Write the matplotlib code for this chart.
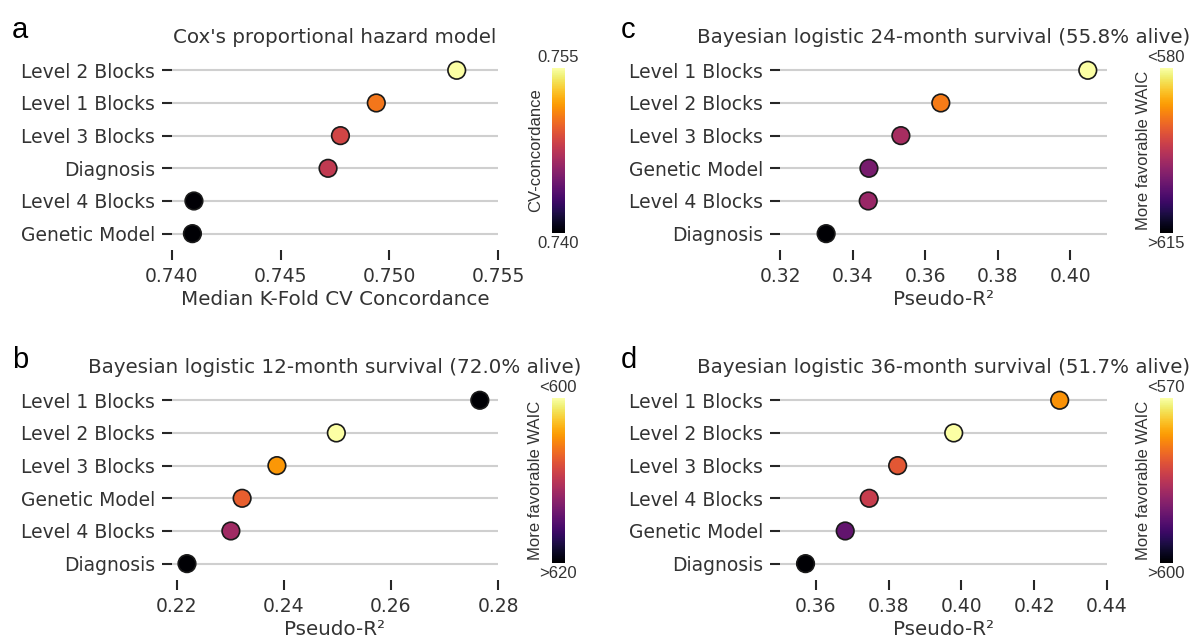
import numpy as np
import matplotlib
matplotlib.use('Agg')
import matplotlib.pyplot as plt
import matplotlib.colors as mcolors

plt.rcParams['font.family'] = 'DejaVu Sans'

# panel a: Cox model, CV concordance
labels_a = ['Level 2 Blocks', 'Level 1 Blocks', 'Level 3 Blocks', 'Diagnosis',
            'Level 4 Blocks', 'Genetic Model']
conc_a = [0.7531, 0.7494, 0.74775, 0.74718, 0.74101, 0.74094]

# panel b: 12-month survival
labels_b = ['Level 1 Blocks', 'Level 2 Blocks', 'Level 3 Blocks', 'Genetic Model',
            'Level 4 Blocks', 'Diagnosis']
r2_b = [0.2766, 0.2498, 0.2387, 0.2322, 0.2301, 0.2219]
waic_b = [624, 598, 604.6, 607.2, 611.4, 623]

# panel c: 24-month survival
labels_c = ['Level 1 Blocks', 'Level 2 Blocks', 'Level 3 Blocks', 'Genetic Model',
            'Level 4 Blocks', 'Diagnosis']
r2_c = [0.4048, 0.3643, 0.3533, 0.3445, 0.3443, 0.3327]
waic_c = [578, 590.2, 599.3, 603.5, 600.6, 618]

# panel d: 36-month survival
labels_d = ['Level 1 Blocks', 'Level 2 Blocks', 'Level 3 Blocks', 'Level 4 Blocks',
            'Genetic Model', 'Diagnosis']
r2_d = [0.4270, 0.3979, 0.3825, 0.3747, 0.3681, 0.3572]
waic_d = [577.2, 568, 581.4, 584.1, 591.6, 602]

txt_col = '#333333'
cb_font = 'Liberation Sans'

fig = plt.figure(figsize=(11.96, 6.4), dpi=100)

def xticks_fmt(ticks):
    if ticks[0] > 0.7:
        return ['%.3f' % t for t in ticks]
    return ['%.2f' % t for t in ticks]

def dot_panel(rect, labels, vals, colors, xlim, xticks, xlabel, title):
    ax = fig.add_axes(rect)
    y = np.arange(len(labels))
    for yy in y:
        ax.axhline(yy, color='#cfcfcf', lw=1.5, zorder=1)
    ax.scatter(vals, y, s=160, c=colors, edgecolors='#1a1a1a', linewidths=1.2, zorder=3)
    ax.set_ylim(len(labels) - 0.5, -0.5)
    ax.set_xlim(*xlim)
    ax.set_yticks(y)
    ax.set_yticklabels(labels)
    ax.set_xticks(xticks)
    ax.set_xticklabels(xticks_fmt(xticks))
    for s in ax.spines.values():
        s.set_visible(False)
    ax.tick_params(axis='both', length=7, width=1.5, color='#262626',
                   labelsize=13.5, labelcolor=txt_col, pad=5)
    ax.set_xlabel(xlabel, fontsize=14.3, color=txt_col, labelpad=3)
    ax.set_title(title, fontsize=14.3, color=txt_col, pad=8)
    return ax

def add_cbar(rect, cmap, norm, top, bottom, label, invert=False):
    cax = fig.add_axes(rect)
    cb = matplotlib.colorbar.ColorbarBase(cax, cmap=cmap, norm=norm)
    cb.outline.set_visible(False)
    cax.set_yticks([])
    if invert:
        cax.invert_yaxis()
    cax.text(0.5, 1.02, top, transform=cax.transAxes, ha='center', va='bottom',
             fontsize=12, family=cb_font, color=txt_col)
    cax.text(0.5, -0.02, bottom, transform=cax.transAxes, ha='center', va='top',
             fontsize=12, family=cb_font, color=txt_col)
    cax.text(-1.3, 0.5, label, transform=cax.transAxes, ha='center', va='center',
             rotation=90, fontsize=12, family=cb_font, color=txt_col)
    return cax

inferno = plt.get_cmap('inferno')
inferno_r = plt.get_cmap('inferno_r')

# a
norm_a = mcolors.Normalize(min(conc_a), max(conc_a))
dot_panel([0.1438, 0.6094, 0.2726, 0.3063], labels_a, conc_a,
          [inferno(norm_a(v)) for v in conc_a], (0.740, 0.755),
          [0.740, 0.745, 0.750, 0.755], 'Median K-Fold CV Concordance',
          "Cox's proportional hazard model")
add_cbar([0.4615, 0.6364, 0.0105, 0.2569], inferno, mcolors.Normalize(0.740, 0.755),
         '0.755', '0.740', 'CV-concordance')

# b
norm_b = mcolors.Normalize(600, 620, clip=True)
dot_panel([0.1438, 0.0938, 0.2726, 0.3063], labels_b, r2_b,
          [inferno_r(norm_b(v)) for v in waic_b], (0.2191, 0.28),
          [0.22, 0.24, 0.26, 0.28], 'Pseudo-R²',
          'Bayesian logistic 12-month survival (72.0% alive)')
add_cbar([0.4615, 0.1208, 0.0105, 0.2569], inferno_r, norm_b,
         '<600', '>620', 'More favorable WAIC', invert=True)

# c
norm_c = mcolors.Normalize(580, 615, clip=True)
dot_panel([0.6522, 0.6094, 0.2734, 0.3063], labels_c, r2_c,
          [inferno_r(norm_c(v)) for v in waic_c], (0.32, 0.4101),
          [0.32, 0.34, 0.36, 0.38, 0.40], 'Pseudo-R²',
          'Bayesian logistic 24-month survival (55.8% alive)')
add_cbar([0.9699, 0.6364, 0.0105, 0.2569], inferno_r, norm_c,
         '<580', '>615', 'More favorable WAIC', invert=True)

# d
norm_d = mcolors.Normalize(570, 600, clip=True)
dot_panel([0.6522, 0.0938, 0.2734, 0.3063], labels_d, r2_d,
          [inferno_r(norm_d(v)) for v in waic_d], (0.3502, 0.44),
          [0.36, 0.38, 0.40, 0.42, 0.44], 'Pseudo-R²',
          'Bayesian logistic 36-month survival (51.7% alive)')
add_cbar([0.9699, 0.1208, 0.0105, 0.2569], inferno_r, norm_d,
         '<570', '>600', 'More favorable WAIC', invert=True)

# panel letters
for lab, x, y in [('a', 0.010, 0.94), ('b', 0.010, 0.425),
                  ('c', 0.519, 0.94), ('d', 0.519, 0.425)]:
    fig.text(x, y, lab, fontsize=21, family=cb_font, color='black')

fig.savefig('out.png', dpi=100)
